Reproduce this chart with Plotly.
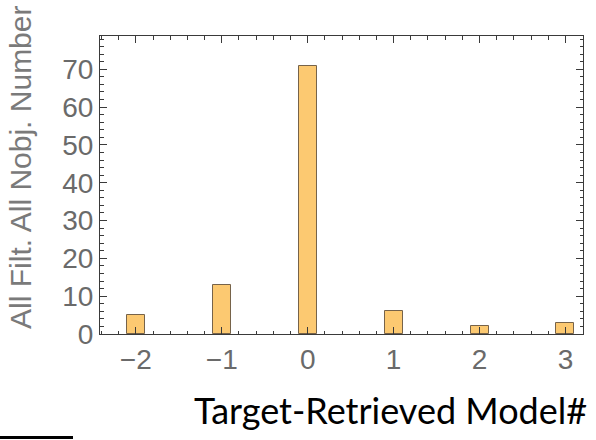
import plotly.graph_objects as go

# Offsets between target and retrieved model numbers, and object counts
offsets = [-2, -1, 0, 1, 2, 3]
counts = [5, 13, 71, 6, 2, 3]

tick_vals_y = [0, 10, 20, 30, 40, 50, 60, 70]
tick_vals_x = [-2, -1, 0, 1, 2, 3]
tick_text_x = ["\u22122", "\u22121", "0", "1", "2", "3"]

y_title = "All Filt. All Nobj. Number"
x_title = "Target-Retrieved Model#"

bar_fill = "#FCC971"
bar_edge = "#76634a"
frame_col = "#3a3a3a"
label_col = "#6a6a6a"

fig = go.Figure(
    go.Bar(
        x=offsets,
        y=counts,
        width=0.21,
        marker=dict(color=bar_fill, line=dict(color=bar_edge, width=1)),
    )
)

axis_common = dict(
    showline=True,
    linecolor=frame_col,
    linewidth=1,
    mirror="allticks",
    ticks="inside",
    tickcolor=frame_col,
    tickwidth=1,
    showgrid=False,
    zeroline=False,
    tickfont=dict(family="Liberation Sans, Arial, sans-serif", size=28, color=label_col),
)

fig.update_xaxes(
    range=[-2.417, 3.204],
    tickvals=tick_vals_x,
    ticktext=tick_text_x,
    ticklen=7,
    minor=dict(dtick=0.2, tick0=0, ticks="inside", ticklen=3.5, tickcolor=frame_col, showgrid=False),
    **axis_common,
)
fig.update_yaxes(
    range=[0, 78.8],
    tickvals=tick_vals_y,
    ticklen=7,
    minor=dict(dtick=2, tick0=0, ticks="inside", ticklen=3.5, tickcolor=frame_col, showgrid=False),
    **axis_common,
)

fig.update_layout(
    width=596,
    height=440,
    margin=dict(l=100, r=13, t=36, b=106),
    paper_bgcolor="white",
    plot_bgcolor="white",
    showlegend=False,
    bargap=0,
    annotations=[
        dict(
            text=y_title,
            xref="paper", yref="paper",
            x=-0.166, y=0.56,
            xanchor="center", yanchor="middle",
            textangle=-90,
            showarrow=False,
            font=dict(family="Liberation Sans, Arial, sans-serif", size=30, color="#7a7a7a"),
        ),
        dict(
            text=x_title,
            xref="paper", yref="paper",
            x=(390 - 100) / 483, y=-(410 - 334) / 298,
            xanchor="center", yanchor="middle",
            showarrow=False,
            font=dict(family="Lato, sans-serif", size=36, color="black"),
        ),
    ],
    shapes=[
        dict(
            type="line",
            xref="paper", yref="paper",
            x0=-100 / 483, x1=(73 - 100) / 483,
            y0=-(437.5 - 334) / 298, y1=-(437.5 - 334) / 298,
            line=dict(color="black", width=3),
        )
    ],
)

fig.write_html("out.html")
